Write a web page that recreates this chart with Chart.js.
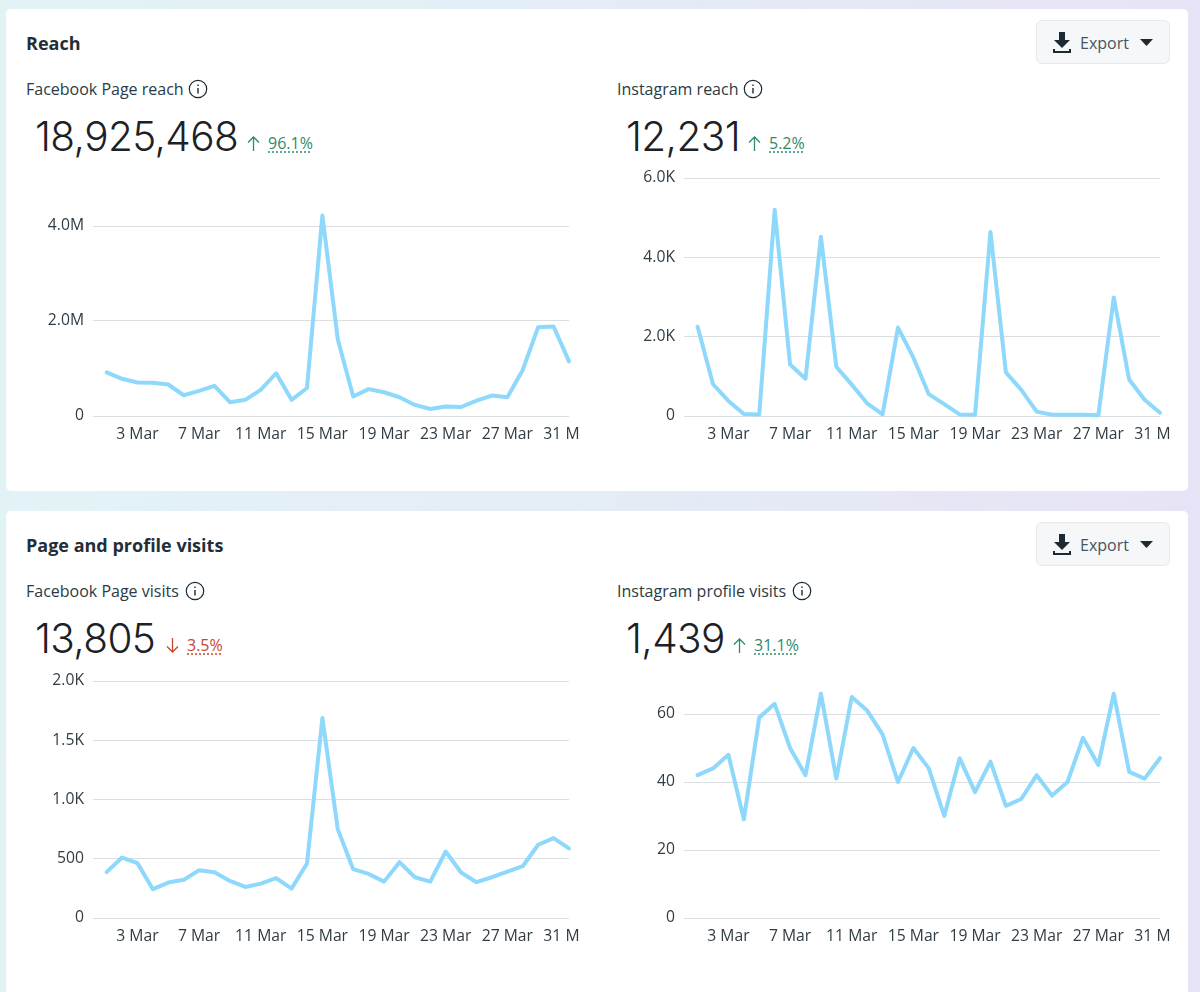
<!DOCTYPE html>
<html>
<head>
<title>Reach and visits</title>
<script src="https://cdn.jsdelivr.net/npm/chart.js@4"></script>
<style>
html, body { margin: 0; padding: 0; }
body {
  width: 1200px; height: 992px; overflow: hidden; position: relative;
  background: linear-gradient(90deg, #e2f3f6 0%, #e4ecf5 50%, #e7e3f6 100%);
  font-family: "Open Sans", sans-serif; color: #1c2b33;
}
.card { position: absolute; left: 6px; width: 1182px; background: #fff; border-radius: 5px; }
.abs { position: absolute; white-space: nowrap; }
.title { font-size: 18px; font-weight: 700; line-height: 24px; left: 26px; color: #1f2e38; }
.sub { font-size: 16px; line-height: 22px; color: #2b3a44; font-weight: 500; }
.big { font-size: 40.5px; line-height: 50px; font-family: "Inter", sans-serif; font-weight: 300; color: #1c2126; letter-spacing: -0.6px; }
.delta { font-size: 16px; line-height: 20px; }
.delta svg { vertical-align: -2px; }
.delta span { text-decoration: underline dotted; text-underline-offset: 3px; margin-left: 8px; }
.up { color: #2f8a6c; }
.down { color: #c8452f; }
.export {
  left: 1036px; width: 132px; height: 42px; background: #f6f7f8;
  border: 1px solid #e6e9ec; border-radius: 6px;
}
.export b { position: absolute; left: 43px; top: 11px; font-weight: 400; font-size: 16px; line-height: 22px; color: #46555f; }
.export svg { position: absolute; }
canvas { position: absolute; }
</style>
</head>
<body>
<div class="card" style="top:9px;height:482px"></div>
<div class="card" style="top:511px;height:490px"></div>

<div class="abs title" style="top:31px">Reach</div>
<div class="abs title" style="top:533px">Page and profile visits</div>

<div class="abs export" style="top:20px">
  <svg style="left:16px;top:11px" width="18" height="21" viewBox="0 0 18 21"><path d="M6 0h6v8h5l-8 8-8-8h5z M0 17h2v2h14v-2h2v4H0z" fill="#1c2b33"/></svg>
  <b>Export</b>
  <svg style="left:103px;top:18px" width="13" height="7" viewBox="0 0 13 7"><path d="M0 0h13L6.5 7z" fill="#1c2b33"/></svg>
</div>
<div class="abs export" style="top:522px">
  <svg style="left:16px;top:11px" width="18" height="21" viewBox="0 0 18 21"><path d="M6 0h6v8h5l-8 8-8-8h5z M0 17h2v2h14v-2h2v4H0z" fill="#1c2b33"/></svg>
  <b>Export</b>
  <svg style="left:103px;top:18px" width="13" height="7" viewBox="0 0 13 7"><path d="M0 0h13L6.5 7z" fill="#1c2b33"/></svg>
</div>

<div class="abs sub" style="left:26px;top:78px">Facebook Page reach</div>
<div class="abs sub" style="left:617px;top:78px">Instagram reach</div>
<div class="abs sub" style="left:26px;top:580px">Facebook Page visits</div>
<div class="abs sub" style="left:617px;top:580px">Instagram profile visits</div>

<svg class="abs" style="left:188px;top:79px" width="20" height="20"><circle cx="10" cy="10" r="8.7" fill="none" stroke="#1c2b33" stroke-width="1.2"/><path d="M10 9v5.5M10 5.5v1.5" stroke="#1c2b33" stroke-width="1.4"/></svg>
<svg class="abs" style="left:743px;top:79px" width="20" height="20"><circle cx="10" cy="10" r="8.7" fill="none" stroke="#1c2b33" stroke-width="1.2"/><path d="M10 9v5.5M10 5.5v1.5" stroke="#1c2b33" stroke-width="1.4"/></svg>
<svg class="abs" style="left:185px;top:581px" width="20" height="20"><circle cx="10" cy="10" r="8.7" fill="none" stroke="#1c2b33" stroke-width="1.2"/><path d="M10 9v5.5M10 5.5v1.5" stroke="#1c2b33" stroke-width="1.4"/></svg>
<svg class="abs" style="left:792px;top:581px" width="20" height="20"><circle cx="10" cy="10" r="8.7" fill="none" stroke="#1c2b33" stroke-width="1.2"/><path d="M10 9v5.5M10 5.5v1.5" stroke="#1c2b33" stroke-width="1.4"/></svg>

<div class="abs big" style="left:35px;top:112px">18,925,468</div>
<div class="abs big" style="left:626px;top:112px">12,231</div>
<div class="abs big" style="left:35px;top:614px">13,805</div>
<div class="abs big" style="left:626px;top:614px">1,439</div>

<div class="abs delta up" style="left:247px;top:133px"><svg width="13" height="15" viewBox="0 0 13 15"><path d="M6.5 15V1M1 6.5l5.5-5.5 5.5 5.5" fill="none" stroke="currentColor" stroke-width="1.3"/></svg><span>96.1%</span></div>
<div class="abs delta up" style="left:748px;top:133px"><svg width="13" height="15" viewBox="0 0 13 15"><path d="M6.5 15V1M1 6.5l5.5-5.5 5.5 5.5" fill="none" stroke="currentColor" stroke-width="1.3"/></svg><span>5.2%</span></div>
<div class="abs delta down" style="left:166px;top:635px"><svg width="13" height="15" viewBox="0 0 13 15"><path d="M6.5 0V14M1 8.5l5.5 5.5 5.5-5.5" fill="none" stroke="currentColor" stroke-width="1.3"/></svg><span>3.5%</span></div>
<div class="abs delta up" style="left:733px;top:635px"><svg width="13" height="15" viewBox="0 0 13 15"><path d="M6.5 15V1M1 6.5l5.5-5.5 5.5 5.5" fill="none" stroke="currentColor" stroke-width="1.3"/></svg><span>31.1%</span></div>

<canvas id="fbReach" width="539" height="256" style="left:40px;top:195px"></canvas>
<canvas id="igReach" width="539" height="286" style="left:631px;top:165px"></canvas>
<canvas id="fbVisits" width="539" height="285" style="left:40px;top:668px"></canvas>
<canvas id="igVisits" width="539" height="285" style="left:631px;top:668px"></canvas>

<script>
var days = [1,2,3,4,5,6,7,8,9,10,11,12,13,14,15,16,17,18,19,20,21,22,23,24,25,26,27,28,29,30,31];
var tickDays = [3,7,11,15,19,23,27,31];

var fbReach = [917000,783000,705000,700000,663000,437000,530000,635000,290000,340000,550000,900000,340000,590000,4220000,1610000,410000,565000,500000,395000,233000,148000,200000,190000,325000,430000,395000,970000,1870000,1885000,1150000];
var igReach = [2250,800,380,50,40,5200,1300,940,4520,1240,790,320,40,2230,1470,550,300,40,30,4640,1100,660,110,30,30,30,20,2990,920,410,80];
var fbVisits = [387,510,463,243,299,322,403,387,313,262,290,336,248,460,1687,748,412,372,307,471,344,307,561,384,302,344,392,437,618,674,587];
var igVisits = [42,44,48,29,59,63,50,42,66,41,65,61,54,40,50,44,30,47,37,46,33,35,42,36,40,53,45,66,43,41,47];

var fbReachTicks = [0,2000000,4000000];
var fbReachLabels = ['0','2.0M','4.0M'];
var igReachTicks = [0,2000,4000,6000];
var igReachLabels = ['0','2.0K','4.0K','6.0K'];
var fbVisitsTicks = [0,500,1000,1500,2000];
var fbVisitsLabels = ['0','500','1.0K','1.5K','2.0K'];
var igVisitsTicks = [0,20,40,60];
var igVisitsLabels = ['0','20','40','60'];

Chart.defaults.font.family = '"Open Sans", sans-serif';
Chart.defaults.font.size = 15.7;
Chart.defaults.color = '#303c44';

function drawLine(id, values, yTicks, yLabels, yMax, topPad) {
  new Chart(document.getElementById(id), {
    type: 'line',
    data: {
      datasets: [{
        data: days.map(function (d, i) { return { x: d, y: values[i] }; }),
        borderColor: '#8dd8fb',
        borderWidth: 4,
        pointRadius: 0,
        tension: 0,
        clip: false,
        borderJoinStyle: 'round',
        borderCapStyle: 'round'
      }]
    },
    options: {
      responsive: false,
      animation: false,
      events: [],
      layout: { padding: { top: topPad, right: 10, left: 0, bottom: 0 } },
      plugins: { legend: { display: false }, tooltip: { enabled: false } },
      scales: {
        x: {
          type: 'linear',
          min: 0.117,
          max: 31,
          grid: { display: false },
          border: { display: false },
          afterBuildTicks: function (s) { s.ticks = tickDays.map(function (v) { return { value: v }; }); },
          afterFit: function (s) { s.height = 35; s.paddingLeft = 0; s.paddingRight = 0; },
          ticks: {
            autoSkip: false, maxRotation: 0, minRotation: 0, padding: 1,
            callback: function (v) { return v + ' Mar'; }
          }
        },
        y: {
          min: 0,
          max: yMax,
          grid: { color: '#dcdfe2', lineWidth: 1, drawTicks: false },
          border: { display: false },
          afterBuildTicks: function (s) { s.ticks = yTicks.map(function (v) { return { value: v }; }); },
          afterFit: function (s) { s.width = 53; s.paddingTop = 0; s.paddingBottom = 0; },
          ticks: {
            autoSkip: false, padding: 9,
            callback: function (v) { return yLabels[yTicks.indexOf(v)]; }
          }
        }
      }
    }
  });
}

drawLine('fbReach', fbReach, fbReachTicks, fbReachLabels, 4400000, 12);
drawLine('igReach', igReach, igReachTicks, igReachLabels, 6000, 13);
drawLine('fbVisits', fbVisits, fbVisitsTicks, fbVisitsLabels, 2000, 13);
drawLine('igVisits', igVisits, igVisitsTicks, igVisitsLabels, 70, 12);
</script>
</body>
</html>
